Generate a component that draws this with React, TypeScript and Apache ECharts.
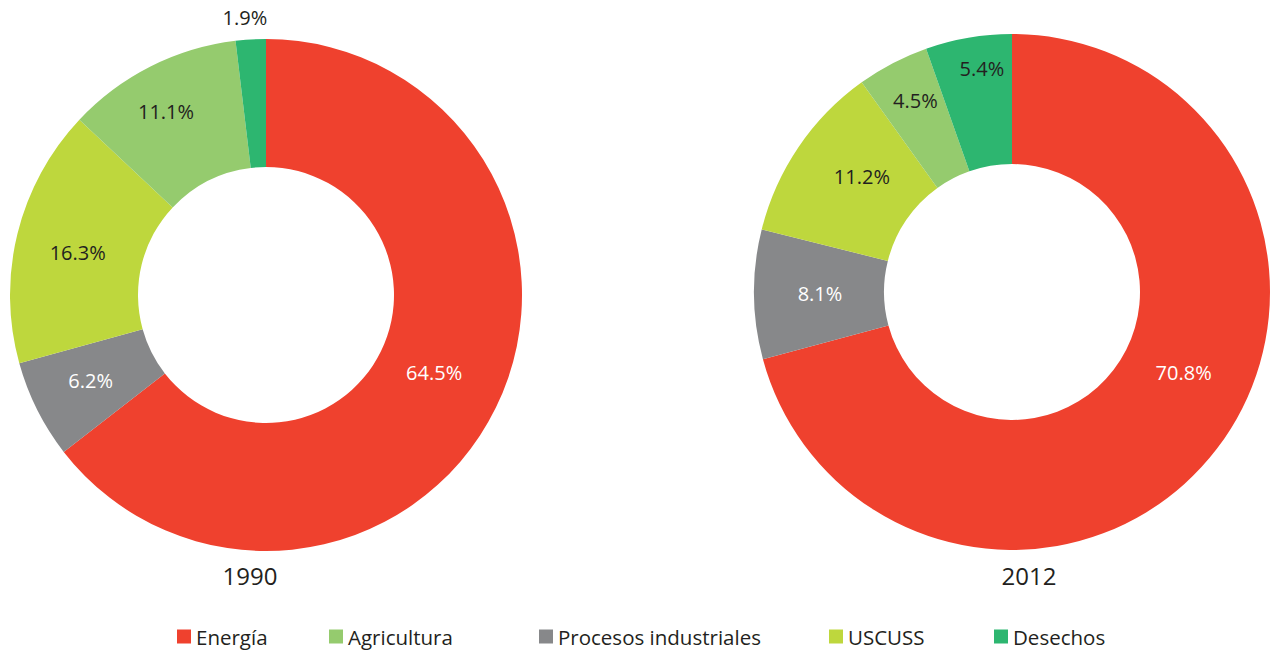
import React, { useEffect, useRef } from "react";
import * as echarts from "echarts";

const categories = ["Energía", "Procesos industriales", "USCUSS", "Agricultura", "Desechos"];
const legendOrder = ["Energía", "Agricultura", "Procesos industriales", "USCUSS", "Desechos"];
const values1990 = [64.5, 6.2, 16.3, 11.1, 1.9];
const values2012 = [70.8, 8.1, 11.2, 4.5, 5.4];
const years = ["1990", "2012"];

// label nudges (layout only), in category order
const labelOffsets1990 = [[-7, -8], [-1, -2], [1, 4], [-12, -9], [17, -14]];
const labelOffsets2012 = [[16, -39], [4, 0], [12, -5], [-6, -18], [3, -30]];

const colors: Record<string, string> = {
  "Energía": "#EF412E",
  "Procesos industriales": "#87888A",
  "USCUSS": "#BED73D",
  "Agricultura": "#95CB6E",
  "Desechos": "#2DB670",
};
const labelColors: Record<string, string> = {
  "Energía": "#ffffff",
  "Procesos industriales": "#ffffff",
  "USCUSS": "#231F20",
  "Agricultura": "#231F20",
  "Desechos": "#231F20",
};

const FONT = "'Open Sans', sans-serif";

function buildData(values: number[], offsets: number[][]) {
  return categories.map((name, i) => {
    const small = values[i] < 3;
    return {
      name,
      value: values[i],
      itemStyle: { color: colors[name] },
      label: small
        ? { position: "outside", color: "#231F20", distanceToLabelLine: 0, offset: offsets[i] }
        : { position: "inside", color: labelColors[name], offset: offsets[i] },
      labelLine: { show: false, length: 8, length2: 0 },
    };
  });
}

export default function App() {
  const ref = useRef<HTMLDivElement>(null);
  useEffect(() => {
    document.body.style.margin = "0";
    const chart = echarts.init(ref.current!, undefined, { renderer: "svg" });
    const legendLefts = [177, 329, 539, 829, 994];
    const yearStyle = { fontFamily: FONT, fontSize: 24, fontWeight: "normal", color: "#231F20" };
    const option: any = {
      animation: false,
      textStyle: { fontFamily: FONT },
      title: [
        { text: years[0], left: 250, top: 563, padding: 0, textAlign: "center", textStyle: yearStyle },
        { text: years[1], left: 1029, top: 563, padding: 0, textAlign: "center", textStyle: yearStyle },
      ],
      legend: legendOrder.map((name, i) => ({
        data: [name],
        left: legendLefts[i],
        top: 626,
        padding: 0,
        icon: "rect",
        itemWidth: 14,
        itemHeight: 14,
        selectedMode: false,
        textStyle: { fontFamily: FONT, fontSize: 20.5, color: "#231F20" },
      })),
      series: [
        {
          type: "pie",
          name: years[0],
          center: [266, 295],
          radius: [128, 256],
          startAngle: 90,
          clockwise: true,
          avoidLabelOverlap: false,
          emphasis: { disabled: true },
          label: { show: true, formatter: "{c}%", fontFamily: FONT, fontSize: 20 },
          data: buildData(values1990, labelOffsets1990),
        },
        {
          type: "pie",
          name: years[1],
          center: [1012, 292],
          radius: [128, 258],
          startAngle: 90,
          clockwise: true,
          avoidLabelOverlap: false,
          emphasis: { disabled: true },
          label: { show: true, formatter: "{c}%", fontFamily: FONT, fontSize: 20 },
          data: buildData(values2012, labelOffsets2012),
        },
      ],
    };
    chart.setOption(option);
    return () => chart.dispose();
  }, []);
  return <div ref={ref} style={{ width: 1273, height: 655 }} />;
}
